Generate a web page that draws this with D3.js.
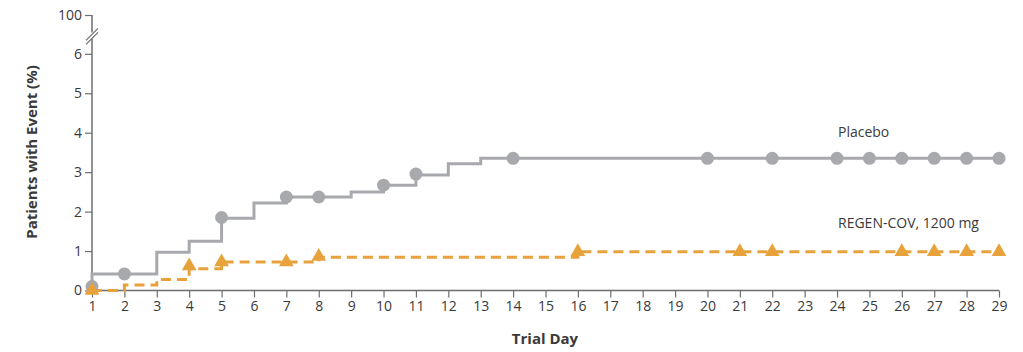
<!DOCTYPE html>
<html>
<head>
<meta charset="utf-8">
<script src="https://cdn.jsdelivr.net/npm/d3@7"></script>
<style>
  body { margin: 0; background: #fff; }
  text { font-family: "Open Sans", "Lato", sans-serif; fill: #3a3a3a; }
</style>
</head>
<body>
<svg id="km"></svg>
<script>
// step values: [day, cumulative % with event]
let placeboSteps = [[1, 0], [1, 0.42], [3, 0.97], [4, 1.25], [5, 1.83], [6, 2.22], [7, 2.37], [9, 2.5], [10, 2.67], [11, 2.93], [12, 3.21], [13, 3.35], [29, 3.35]];
let regenSteps = [[1, 0], [2, 0.14], [3, 0.28], [4, 0.55], [5, 0.72], [8, 0.84], [16, 0.98], [29, 0.98]];
// censor marks
let placeboMarks = [[1, 0.1], [2, 0.42], [5, 1.85], [7, 2.37], [8, 2.37], [10, 2.67], [11, 2.95], [14, 3.35], [20, 3.35], [22, 3.35], [24, 3.35], [25, 3.35], [26, 3.35], [27, 3.35], [28, 3.35], [29, 3.35]];
let regenMarks = [[1, 0], [4, 0.62], [5, 0.72], [7, 0.72], [8, 0.86], [16, 0.98], [21, 0.98], [22, 0.98], [26, 0.98], [27, 0.98], [28, 0.98], [29, 0.98]];
let xTicks = d3.range(1, 30);
let yTicks = [0, 1, 2, 3, 4, 5, 6, 100];

let svg = d3.select("svg#km").attr("width", 1023).attr("height", 352);

let x = d3.scaleLinear().domain([1, 29]).range([92, 999]);
// broken axis: 0-6 linear, then jump to 100
let y = d3.scaleLinear().domain([0, 6, 100]).range([290.5, 53.8, 15]);

let axisColor = "#6d6e71";

let xAxis = d3.axisBottom(x).tickValues(xTicks).tickFormat(d3.format("d")).tickSize(7).tickPadding(4);
let gx = svg.append("g").attr("transform", "translate(0," + y(0) + ")").call(xAxis);
gx.select(".domain").attr("stroke", axisColor).attr("stroke-width", 1.5).attr("d", "M" + x(1) + ",0H" + x(29));
gx.selectAll(".tick line").attr("stroke", axisColor).attr("stroke-width", 1.2);
gx.selectAll(".tick text").style("font-size", "14px").attr("fill", "#3a3a3a");

let yAxis = d3.axisLeft(y).tickValues(yTicks).tickFormat(d3.format("d")).tickSize(7).tickPadding(3);
let gy = svg.append("g").attr("transform", "translate(" + x(1) + ",0)").call(yAxis);
gy.select(".domain").attr("stroke", axisColor).attr("stroke-width", 1.5).attr("d", "M0," + y(100) + "V" + y(0));
gy.selectAll(".tick line").attr("stroke", axisColor).attr("stroke-width", 1.2);
gy.selectAll(".tick text").style("font-size", "14px").attr("fill", "#3a3a3a");

// break marks on the y axis
let breakY = (y(100) + y(6)) / 2 + 2;
let brk = svg.append("g").attr("transform", "translate(" + x(1) + "," + breakY + ")");
brk.append("rect").attr("x", -4).attr("y", -4).attr("width", 8).attr("height", 6).attr("fill", "#fff");
[-2, 2].forEach(function(o) {
  brk.append("line").attr("x1", -6).attr("y1", 6 + o).attr("x2", 6).attr("y2", -6 + o)
    .attr("stroke", axisColor).attr("stroke-width", 1.2);
});

let line = d3.line().curve(d3.curveStepAfter).x(d => x(d[0])).y(d => y(d[1]));

let grey = "#a7a9ac";
let orange = "#e8a23c";

svg.append("path").datum(placeboSteps).attr("d", line)
  .attr("fill", "none").attr("stroke", grey).attr("stroke-width", 3);
svg.append("path").datum(regenSteps).attr("d", line)
  .attr("fill", "none").attr("stroke", orange).attr("stroke-width", 3).attr("stroke-dasharray", "10,6");

svg.append("g").selectAll("circle").data(placeboMarks).join("circle")
  .attr("cx", d => x(d[0])).attr("cy", d => y(d[1])).attr("r", 6.5).attr("fill", grey);

let tri = d3.symbol().type(d3.symbolTriangle).size(95);
svg.append("g").selectAll("path").data(regenMarks).join("path")
  .attr("d", tri).attr("fill", orange)
  .attr("transform", d => "translate(" + x(d[0]) + "," + y(d[1]) + ")");

svg.append("text").attr("x", 838).attr("y", 137).style("font-size", "14px").text("Placebo");
svg.append("text").attr("x", 838).attr("y", 228).style("font-size", "14px").text("REGEN-COV, 1200 mg");

svg.append("text").attr("x", 545).attr("y", 344).style("text-anchor", "middle")
  .style("font-size", "15px").style("font-weight", "bold").text("Trial Day");
svg.append("text").attr("transform", "translate(" + 37 + "," + 152 + ")rotate(270)").style("text-anchor", "middle")
  .style("font-size", "15px").style("font-weight", "bold").text("Patients with Event (%)");
</script>
</body>
</html>
